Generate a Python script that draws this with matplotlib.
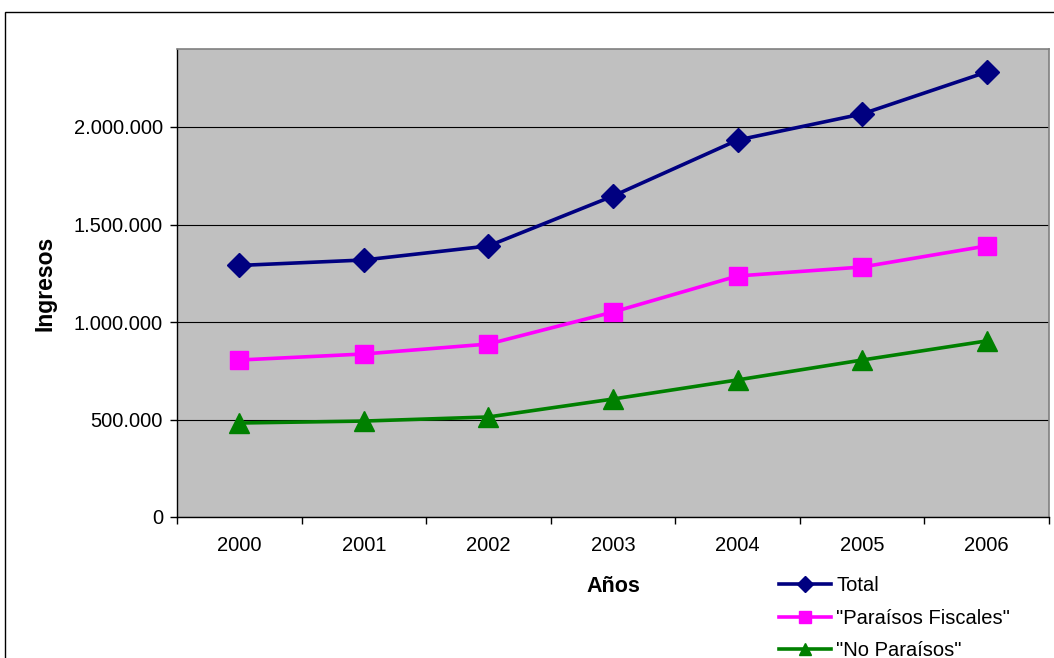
import matplotlib.pyplot as plt
from matplotlib.lines import Line2D
from matplotlib.patches import Rectangle
from matplotlib.ticker import FuncFormatter, MultipleLocator

plt.rcParams['font.family'] = ['Liberation Sans', 'DejaVu Sans']

# Datos
anios = ['2000', '2001', '2002', '2003', '2004', '2005', '2006']
total = [1290000, 1318000, 1390000, 1646000, 1933000, 2067000, 2282000]
paraisos = [805000, 836000, 887000, 1051000, 1236000, 1282000, 1390000]
no_paraisos = [482000, 492000, 513000, 605000, 703000, 805000, 903000]

nombres = ['Total', '"Paraísos Fiscales"', '"No Paraísos"']
colores = ['#000080', '#FF00FF', '#008000']
marcadores = ['D', 's', '^']

W, H = 1054, 658
fig = plt.figure(figsize=(W / 100, H / 100), dpi=100)
ax = fig.add_axes([177 / W, 1 - 517 / H, (1049 - 177) / W, (517 - 49) / H])
ax.set_facecolor('#C0C0C0')

x = list(range(len(anios)))
series = [total, paraisos, no_paraisos]
tamanos = [12, 13, 14]
for vals, col, mk, ms in zip(series, colores, marcadores, tamanos):
    ax.plot(x, vals, color=col, marker=mk, markersize=ms, linewidth=2.6,
            markeredgecolor=col, zorder=3)

ax.set_xlim(-0.5, len(anios) - 0.5)
ax.set_ylim(0, 2400000)
ax.yaxis.set_major_locator(MultipleLocator(500000))
ax.yaxis.set_major_formatter(FuncFormatter(lambda v, p: f"{int(v):,}".replace(",", ".")))
ax.grid(axis='y', color='black', linewidth=0.8)
ax.set_axisbelow(True)

ax.set_xticks(x)
ax.set_xticklabels(anios)
ax.set_xticks([i - 0.5 for i in range(len(anios) + 1)], minor=True)
ax.tick_params(axis='x', which='major', length=0, pad=14, labelsize=14.5)
ax.tick_params(axis='x', which='minor', length=5, width=1, direction='out')
ax.tick_params(axis='y', length=5, width=1, pad=5, labelsize=14.5)

for s in ['top', 'right']:
    ax.spines[s].set_color('#808080')
    ax.spines[s].set_linewidth(1.2)
for s in ['left', 'bottom']:
    ax.spines[s].set_color('black')
    ax.spines[s].set_linewidth(1)

fig.text(45 / W, 1 - 283 / H, 'Ingresos', rotation=90, ha='center', va='center',
         fontsize=16.5, fontweight='bold')
fig.text(613 / W, 1 - 586 / H, 'Años', ha='center', va='center',
         fontsize=15.5, fontweight='bold')

# Leyenda
handles = [Line2D([0], [0], color=c, marker=m, markersize=8, linewidth=2.6)
           for c, m in zip(colores, marcadores)]
fig.legend(handles, nombres, loc='upper left', bbox_to_anchor=(779 / W, 1 - 576 / H),
           frameon=False, fontsize=14.5, handlelength=2.6, handletextpad=0.25,
           labelspacing=0.68, borderpad=0, borderaxespad=0)

# Borde del área del gráfico
fig.patches.append(Rectangle((5 / W, -0.1), 1.2, 1 - 12 / H + 0.1, transform=fig.transFigure,
                             fill=False, edgecolor='black', linewidth=1))

fig.savefig('out.png', dpi=100)
